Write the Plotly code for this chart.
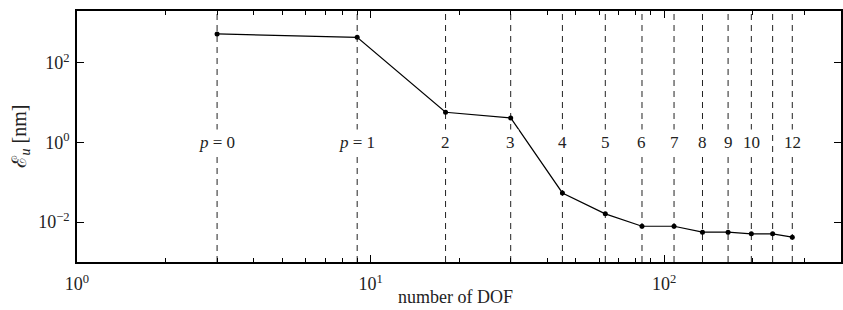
import numpy as np
import plotly.graph_objects as go

# Data
p_order = [0, 1, 2, 3, 4, 5, 6, 7, 8, 9, 10, 11, 12]
dof = [3, 9, 18, 30, 45, 63, 84, 108, 135, 165, 198, 234, 273]
err_nm = [531, 437, 5.75, 4.14, 0.0542, 0.0162, 0.0079, 0.0079, 0.0056, 0.0056, 0.0051, 0.0051, 0.0042]
p_labels = ["<i>p</i> = 0", "<i>p</i> = 1", "2", "3", "4", "5", "6", "7", "8", "9", "10", "", "12"]

x_tickvals = [1, 10, 100]
x_ticktext = ["10<sup>0</sup>", "10<sup>1</sup>", "10<sup>2</sup>"]
x_minor = [2, 3, 4, 5, 6, 7, 8, 9, 20, 30, 40, 50, 60, 70, 80, 90, 200, 300, 400]
y_tickvals = [1e-2, 1, 1e2]
y_ticktext = ["10<sup>\u22122</sup>", "10<sup>0</sup>", "10<sup>2</sup>"]
y_lo, y_hi = 1e-3, 2000
x_lo, x_hi = 1, 400
x_title = "number of DOF"
y_title = "\u2130<sub><i>u</i></sub> [nm]"

FONT = "Liberation Serif"
TXT = "#222222"

W, H = 843, 310
ML, MR, MT, MB = 77, 2, 11, 48
PW, PH = W - ML - MR, H - MT - MB

fig = go.Figure()

# vertical dashed lines at each DOF
vx, vy = [], []
for d in dof:
    vx += [d, d, None]
    vy += [y_lo, y_hi, None]
fig.add_trace(go.Scatter(x=vx, y=vy, mode="lines",
                         line=dict(color="#222222", width=1, dash="6px,5px"),
                         hoverinfo="skip", showlegend=False))

fig.add_trace(go.Scatter(x=dof, y=err_nm, mode="lines+markers",
                         line=dict(color="black", width=1.2),
                         marker=dict(color="black", size=5),
                         showlegend=False))

# invisible traces to activate the extra tick axes
for xa, ya in [("x2", "y2"), ("x3", "y"), ("x4", "y2")]:
    fig.add_trace(go.Scatter(x=[x_lo], y=[y_lo], xaxis=xa, yaxis=ya, mode="markers",
                             marker=dict(opacity=0), hoverinfo="skip", showlegend=False))

for d, lab in zip(dof, p_labels):
    if not lab:
        continue
    fig.add_annotation(x=np.log10(d), y=0, xref="x", yref="y", text=lab,
                       showarrow=False, bgcolor="white", borderpad=3,
                       font=dict(family=FONT, size=17, color=TXT))

fig.add_annotation(x=(455 - ML) / PW, y=-(297 - (MT + PH)) / PH, xref="paper", yref="paper",
                   yanchor="middle", text=x_title, showarrow=False,
                   font=dict(family=FONT, size=18, color=TXT))
fig.add_annotation(x=(20 - ML) / PW, y=0.5, xref="paper", yref="paper", text=y_title,
                   showarrow=False, textangle=-90, xanchor="center",
                   font=dict(family=FONT, size=20, color=TXT))

common = dict(showgrid=False, zeroline=False, showline=True, linecolor="black",
              linewidth=1.6, ticks="inside", tickcolor="black", automargin=False,
              tickfont=dict(family=FONT, size=18, color=TXT), tickwidth=1)
xr = [np.log10(x_lo), np.log10(x_hi)]
yr = [np.log10(y_lo), np.log10(y_hi)]

fig.update_layout(
    width=W, height=H, margin=dict(l=ML, r=MR, t=MT, b=MB),
    plot_bgcolor="white", paper_bgcolor="white",
    font=dict(family=FONT, color=TXT),
    xaxis=dict(type="log", range=xr, tickvals=x_tickvals, ticktext=x_ticktext,
               ticklen=7, ticklabelstandoff=5, **common),
    yaxis=dict(type="log", range=yr, tickvals=y_tickvals, ticktext=y_ticktext,
               ticklen=7, ticklabelstandoff=2, **common),
    xaxis2=dict(type="log", range=xr, overlaying="x", side="top", anchor="y2",
                tickvals=x_tickvals, showticklabels=False, ticklen=7, **common),
    yaxis2=dict(type="log", range=yr, overlaying="y", side="right", anchor="x2",
                tickvals=y_tickvals, showticklabels=False, ticklen=7, **common),
    xaxis3=dict(type="log", range=xr, overlaying="x", side="bottom", anchor="y",
                tickvals=x_minor, showticklabels=False, ticklen=4, **common),
    xaxis4=dict(type="log", range=xr, overlaying="x", side="top", anchor="y2",
                tickvals=x_minor, showticklabels=False, ticklen=4, **common),
)

fig.write_html("out.html", config={"displayModeBar": False},
               post_script="document.body.style.margin='0px';")
